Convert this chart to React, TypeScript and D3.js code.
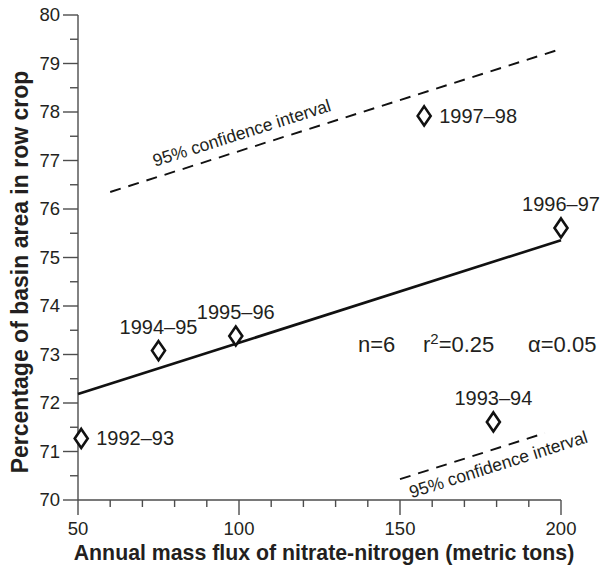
import React from "react";
import * as d3 from "d3";

const years = ["1992–93", "1993–94", "1994–95", "1995–96", "1996–97", "1997–98"];
const flux = [51, 179, 75, 99, 200, 157.5];
const rowCrop = [71.27, 71.61, 73.08, 73.38, 75.61, 77.92];
const labelSide = ["right", "above", "above", "above", "above", "right"];

const xTicks = [50, 100, 150, 200];
const yTicks = [70, 71, 72, 73, 74, 75, 76, 77, 78, 79, 80];
const ciUpper: [number, number][] = [[60, 76.35], [200, 79.3]];
const ciLower: [number, number][] = [[150, 70.43], [195, 71.38]];
const ciLabel = "95% confidence interval";
const ciUpperLabelAt: [number, number] = [73.9, 76.87];
const ciLowerLabelAt: [number, number] = [153.6, 70.035];

const W = 605, H = 569;
const FONT = "'Liberation Sans', Arial, Helvetica, sans-serif";
const TXT = "#231f20";

export default function App() {
  const x = d3.scaleLinear().domain([50, 200]).range([78, 561]);
  const y = d3.scaleLinear().domain([70, 80]).range([500, 15]);

  // least squares fit
  const mx = d3.mean(flux)!;
  const my = d3.mean(rowCrop)!;
  let sxy = 0, sxx = 0;
  flux.forEach((v, i) => { sxy += (v - mx) * (rowCrop[i] - my); sxx += (v - mx) ** 2; });
  const slope = sxy / sxx;
  const icpt = my - slope * mx;
  const fit: [number, number][] = [[50, icpt + slope * 50], [200, icpt + slope * 200]];

  const line = d3.line<[number, number]>().x(d => x(d[0])).y(d => y(d[1]));
  const angle = Math.atan2(y(ciUpper[1][1]) - y(ciUpper[0][1]), x(ciUpper[1][0]) - x(ciUpper[0][0])) * 180 / Math.PI;

  const minorX = d3.range(50, 201, 10);
  const minorY = d3.range(70, 80.01, 0.5);
  const axisCol = "#4d4d4d";

  return (
    <svg width={W} height={H} style={{ position: "absolute", left: 0, top: 0, background: "#fff" }} fontFamily={FONT}>
      <rect width={W} height={H} fill="#fff" />
      {/* axes */}
      <line x1={x(50)} x2={x(200)} y1={y(70)} y2={y(70)} stroke={axisCol} strokeWidth={1.4} />
      <line x1={x(50)} x2={x(50)} y1={y(70)} y2={y(80)} stroke={axisCol} strokeWidth={1.4} />
      {minorX.map(v => (
        <line key={"mx" + v} x1={x(v)} x2={x(v)} y1={y(70)} y2={y(70) + (v % 50 === 0 ? 15 : 7)} stroke={axisCol} strokeWidth={1.4} />
      ))}
      {minorY.map(v => (
        <line key={"my" + v} x1={x(50) - (Math.abs(v - Math.round(v)) < 1e-6 ? 15 : 8)} x2={x(50)} y1={y(v)} y2={y(v)} stroke={axisCol} strokeWidth={1.4} />
      ))}
      {xTicks.map(v => (
        <text key={"xt" + v} x={x(v)} y={535} textAnchor="middle" fontSize={18.5} fill={TXT}>{v}</text>
      ))}
      {yTicks.map(v => (
        <text key={"yt" + v} x={x(50) - 18} y={y(v)} dy="0.35em" textAnchor="end" fontSize={18.5} fill={TXT}>{v}</text>
      ))}
      <text x={324} y={560} textAnchor="middle" fontSize={21.3} fontWeight="bold" fill={TXT}>
        Annual mass flux of nitrate-nitrogen (metric tons)
      </text>
      <text transform={`translate(28,272) rotate(-90)`} textAnchor="middle" fontSize={23} fontWeight="bold" fill={TXT}>
        Percentage of basin area in row crop
      </text>

      {/* fit and CI */}
      <path d={line(fit)!} stroke="#111" strokeWidth={2.7} fill="none" />
      <path d={line(ciUpper)!} stroke="#111" strokeWidth={1.9} strokeDasharray="11,8" fill="none" />
      <path d={line(ciLower)!} stroke="#111" strokeWidth={1.9} strokeDasharray="11,8" fill="none" />
      <text transform={`translate(${x(ciUpperLabelAt[0])},${y(ciUpperLabelAt[1])}) rotate(${angle})`} fontSize={17.5} fill={TXT}>{ciLabel}</text>
      <text transform={`translate(${x(ciLowerLabelAt[0])},${y(ciLowerLabelAt[1])}) rotate(${angle})`} fontSize={17.5} fill={TXT}>{ciLabel}</text>

      {/* points */}
      {years.map((yr, i) => {
        const px = x(flux[i]), py = y(rowCrop[i]);
        const right = labelSide[i] === "right";
        return (
          <g key={yr}>
            <path d={`M${px},${py - 9.5}L${px + 6.5},${py}L${px},${py + 9.5}L${px - 6.5},${py}Z`} fill="#fff" stroke="#111" strokeWidth={2.6} />
            <text x={right ? px + 15 : px} y={right ? py + 7 : py - 17} textAnchor={right ? "start" : "middle"} fontSize={20} fill={TXT}>{yr}</text>
          </g>
        );
      })}

      {/* stats */}
      <text x={358} y={352} fontSize={22} fill={TXT}>n=6</text>
      <text x={423} y={352} fontSize={22} fill={TXT}>
        r<tspan dy={-8} fontSize={15}>2</tspan><tspan dy={8}>=0.25</tspan>
      </text>
      <text x={528} y={352} fontSize={22} fill={TXT}>α=0.05</text>
    </svg>
  );
}
